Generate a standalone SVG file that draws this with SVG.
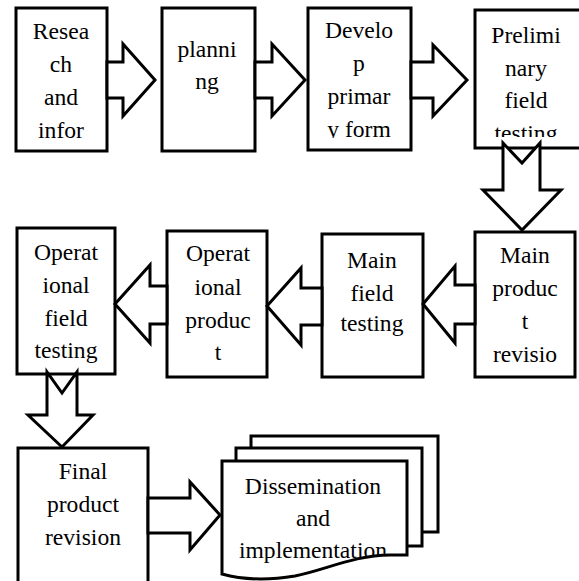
<svg xmlns="http://www.w3.org/2000/svg" width="579" height="581" viewBox="0 0 579 581">
<style>
.b{fill:#fff;stroke:#000;stroke-width:3;stroke-linejoin:miter}
.a{fill:#fff;stroke:#000;stroke-width:3;stroke-linejoin:miter}
text{font-size:23.6px;fill:#000;text-anchor:middle}
</style>
<defs>
<clipPath id="c3"><rect x="300" y="0" width="120" height="138"/></clipPath>
<clipPath id="c4"><rect x="470" y="0" width="120" height="137"/></clipPath>
<clipPath id="cd"><path d="M222,461 L407,461 L407,555 L390,555 C355,555 325,570 295,576 C265,581 240,579 222,574 Z"/></clipPath>
</defs>
<rect width="579" height="581" fill="#fff"/>
<g font-family="'Liberation Serif', 'DejaVu Serif', serif">
<g id="n1"><rect class="b" x="16" y="8" width="91" height="143"/>
<text x="61" y="39">Resea</text><text x="61" y="72">ch</text><text x="61" y="105">and</text><text x="61" y="138">infor</text></g>
<g id="n2"><rect class="b" x="162" y="8" width="93" height="143"/>
<text x="207" y="57">planni</text><text x="207" y="89">ng</text></g>
<g id="n3"><rect class="b" x="308" y="8" width="103" height="142"/>
<g clip-path="url(#c3)"><text x="359" y="38">Develo</text><text x="359" y="71">p</text><text x="359" y="104">primar</text><text x="359" y="137">y form</text></g></g>
<g id="n4"><rect class="b" x="475" y="10" width="115" height="138"/>
<g clip-path="url(#c4)"><text x="526" y="43">Prelimi</text><text x="526" y="76">nary</text><text x="526" y="108">field</text><text x="526" y="141">testing</text></g></g>
<g id="n5"><rect class="b" x="475" y="232" width="100" height="145"/>
<text x="525" y="263">Main</text><text x="525" y="296">produc</text><text x="525" y="329">t</text><text x="525" y="362">revisio</text></g>
<g id="n6"><rect class="b" x="322" y="234" width="101" height="143"/>
<text x="372" y="268">Main</text><text x="372" y="301">field</text><text x="372" y="331">testing</text></g>
<g id="n7"><rect class="b" x="167" y="231" width="100" height="146"/>
<text x="218" y="261">Operat</text><text x="218" y="295">ional</text><text x="218" y="328">produc</text><text x="218" y="360">t</text></g>
<g id="n8"><rect class="b" x="17" y="228" width="98" height="146"/>
<text x="66" y="260">Operat</text><text x="66" y="293">ional</text><text x="66" y="326">field</text><text x="66" y="358">testing</text></g>
<g id="n9"><rect class="b" x="18" y="448" width="130" height="145"/>
<text x="83" y="479">Final</text><text x="83" y="512">product</text><text x="83" y="545">revision</text></g>
<g id="n10">
<rect class="b" x="251" y="436" width="187" height="96"/>
<rect class="b" x="236" y="448" width="186" height="98"/>
<path class="b" d="M222,461 L407,461 L407,555 L390,555 C355,555 325,570 295,576 C265,581 240,579 222,574 Z"/>
<g clip-path="url(#cd)"><text x="313" y="494">Dissemination</text><text x="313" y="526">and</text><text x="313" y="558">implementation</text></g>
</g>
</g>
<g id="connectors">
<polygon class="a" points="107,62 123,62 123,44 155,80 123,116 123,98 107,98"/>
<polygon class="a" points="255,62 272,62 272,44 305,80 272,116 272,98 255,98"/>
<polygon class="a" points="411,62 433,62 433,45 467,80 433,116 433,98 411,98"/>
<polygon class="a" points="503,143 503,190 483,190 522,230 561,190 540,190 540,143 522,163"/>
<polygon class="a" points="475,285 455,285 455,266 423,304 455,343 455,324 475,324"/>
<polygon class="a" points="322,288 301,288 301,268 267,306 301,345 301,325 322,325"/>
<polygon class="a" points="167,286 150,286 150,265 115,304 150,343 150,324 167,324"/>
<polygon class="a" points="47,372 47,415 28,415 62,447 93,415 77,415 77,372 62,393"/>
<polygon class="a" points="148,498 190,498 190,482 220,515 190,550 190,533 148,533"/>
</g>
</svg>
